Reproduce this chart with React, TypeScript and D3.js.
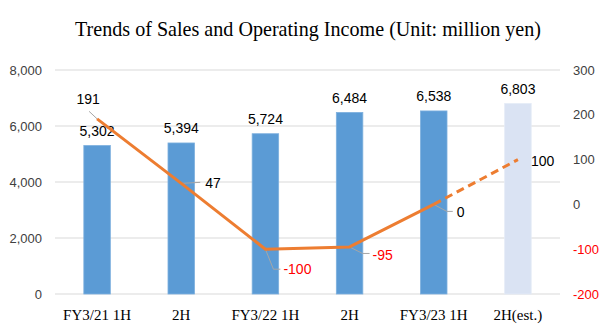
import React from "react";
import * as d3 from "d3";

const categories = ["FY3/21 1H", "2H", "FY3/22 1H", "2H", "FY3/23 1H", "2H(est.)"];
const sales = [5302, 5394, 5724, 6484, 6538, 6803];
const income = [191, 47, -100, -95, 0, 100];
const leftTicks = [0, 2000, 4000, 6000, 8000];
const rightTicks = [-200, -100, 0, 100, 200, 300];
const estimateFlags = [false, false, false, false, false, true];

// label placement (style/layout) relative to each line point
const lineLabelLayout = [
  { dx: -9, dy: -14.5, anchor: "middle", leader: [[-8, -7.5]] },
  { dx: 24, dy: 5, anchor: "start", leader: [[19, -1]] },
  { dx: 18, dy: 25, anchor: "start", leader: [[8, 20], [15, 20]] },
  { dx: 23, dy: 13.4, anchor: "start", leader: [[13, 6.5], [20, 6.5]] },
  { dx: 23, dy: 13, anchor: "start", leader: [[13, 7], [19, 7]] },
  { dx: 13, dy: 6, anchor: "start", leader: [] as number[][] },
];

const W = 613;
const H = 335;
const L = 55;
const R = 560;
const TOP = 70;
const BOTTOM = 294;

export default function App() {
  const x = d3
    .scaleBand<number>()
    .domain(categories.map((_, i) => i))
    .range([L, R])
    .paddingInner(0.685)
    .paddingOuter(0.3425);
  const yL = d3.scaleLinear().domain([0, 8000]).range([BOTTOM, TOP]);
  const yR = d3.scaleLinear().domain([-200, 300]).range([BOTTOM, TOP]);
  const cx = (i: number) => (x(i) as number) + x.bandwidth() / 2;
  const fmt = d3.format(",");

  const pts: [number, number][] = income.map((v, i) => [cx(i), yR(v)]);
  const lineGen = d3.line<[number, number]>();
  const solidPts = pts.filter((_, i) => !estimateFlags[i]);
  const firstEst = estimateFlags.indexOf(true);
  const dashedPts = firstEst > 0 ? pts.slice(firstEst - 1) : [];

  const sansFont = "'Liberation Sans', Arial, sans-serif";
  const serifFont = "'Liberation Serif', 'Times New Roman', serif";

  return (
    <svg
      width={W}
      height={H}
      style={{ position: "absolute", left: 0, top: 0, background: "#fff" }}
    >
      <text
        x={308}
        y={36}
        textAnchor="middle"
        fontFamily={serifFont}
        fontSize={21}
        textLength={466}
        lengthAdjust="spacingAndGlyphs"
        fill="#000"
      >
        Trends of Sales and Operating Income (Unit: million yen)
      </text>

      {leftTicks.map((t) => (
        <line
          key={"g" + t}
          x1={L}
          x2={R}
          y1={yL(t)}
          y2={yL(t)}
          stroke="#D9D9D9"
          strokeWidth={1}
        />
      ))}

      {leftTicks.map((t) => (
        <text
          key={"l" + t}
          x={42}
          y={yL(t)}
          dy="0.35em"
          textAnchor="end"
          fontFamily={sansFont}
          fontSize={13}
          fill="#404040"
        >
          {fmt(t)}
        </text>
      ))}

      {rightTicks.map((t) => (
        <text
          key={"r" + t}
          x={573}
          y={yR(t)}
          dy="0.35em"
          textAnchor="start"
          fontFamily={sansFont}
          fontSize={13}
          fill={t < 0 ? "#FF0000" : "#404040"}
        >
          {t}
        </text>
      ))}

      {sales.map((v, i) => (
        <rect
          key={"b" + i}
          x={x(i)}
          y={yL(v)}
          width={x.bandwidth()}
          height={BOTTOM - yL(v)}
          fill={estimateFlags[i] ? "#DAE3F3" : "#5B9BD5"}
          stroke={estimateFlags[i] ? "#E4EBF7" : "#7DB0DE"}
          strokeWidth={0.8}
        />
      ))}

      {sales.map((v, i) => (
        <text
          key={"bl" + i}
          x={cx(i)}
          y={yL(v) - 9.5}
          textAnchor="middle"
          fontFamily={sansFont}
          fontSize={14}
          fill="#000"
        >
          {fmt(v)}
        </text>
      ))}

      {categories.map((c, i) => (
        <text
          key={"c" + i}
          x={cx(i)}
          y={320}
          textAnchor="middle"
          fontFamily={serifFont}
          fontSize={15}
          fill="#000"
        >
          {c}
        </text>
      ))}

      {income.map((v, i) => {
        const lay = lineLabelLayout[i];
        const [px, py] = pts[i];
        if (!lay.leader.length) return null;
        const path = d3.path();
        path.moveTo(px, py);
        lay.leader.forEach(([dx, dy]) => path.lineTo(px + dx, py + dy));
        return (
          <path
            key={"ld" + i}
            d={path.toString()}
            fill="none"
            stroke="#A6A6A6"
            strokeWidth={1}
          />
        );
      })}

      <path
        d={lineGen(solidPts) || ""}
        fill="none"
        stroke="#ED7D31"
        strokeWidth={3}
        strokeLinejoin="round"
      />
      <path
        d={lineGen(dashedPts) || ""}
        fill="none"
        stroke="#ED7D31"
        strokeWidth={3}
        strokeDasharray="8 5"
      />

      {income.map((v, i) => {
        const lay = lineLabelLayout[i];
        const [px, py] = pts[i];
        return (
          <text
            key={"il" + i}
            x={px + lay.dx}
            y={py + lay.dy}
            textAnchor={lay.anchor}
            fontFamily={sansFont}
            fontSize={14}
            fill={v < 0 ? "#FF0000" : "#000"}
          >
            {v}
          </text>
        );
      })}
    </svg>
  );
}
